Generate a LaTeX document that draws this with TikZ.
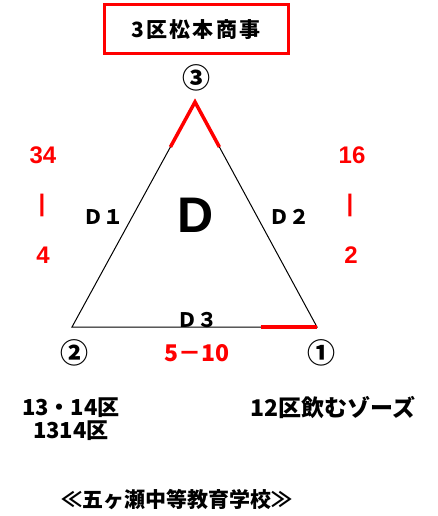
\documentclass[tikz,border=0pt]{standalone}
\usepackage{fontspec}
\setmainfont{Liberation Sans}
\newfontfamily\jp{Noto Sans CJK JP}
\newfontfamily\jpt[LetterSpace=10]{Noto Sans CJK JP}
\usetikzlibrary{calc}
\begin{document}
\begin{tikzpicture}[x=1pt,y=-1pt,
  jptext/.style={inner sep=0pt, font=\jp\bfseries\fontsize{22}{22}\selectfont},
  rednum/.style={inner sep=0pt, text=red, font=\bfseries\fontsize{24}{24}\selectfont},
  circnum/.style={inner sep=0pt, font=\jp\bfseries\fontsize{28}{28}\selectfont},
  dlabel/.style={inner sep=0pt, font=\jp\bfseries\fontsize{20}{20}\selectfont},
  edge/.style={line width=1pt, black},
  redmark/.style={line width=3.5pt, red}]
\useasboundingbox (0,0) rectangle (437,516);
\node[draw=red, line width=3pt, minimum width=184pt, minimum height=49pt, inner sep=0pt,
      font=\jpt\bfseries\fontsize{21}{21}\selectfont] (title) at (196,29.5) {3区松本商事};
\coordinate (A) at (195,102);
\coordinate (B) at (72,327);
\coordinate (C) at (317,327);
\draw[edge] (A) -- (B) -- (C) -- cycle;
\draw[redmark] ($(A)!0.2!(B)$) -- (A) -- ($(A)!0.2!(C)$);
\draw[redmark] ($(C)!0.23!(B)$) -- (C);
\node[circnum] (n3) at (196,78) {③};
\node[circnum] (n2) at (74,353) {②};
\node[circnum] (n1) at (321,353) {①};
\node[rednum] (l34) at (43,155) {34};
\node[rednum] (lbar1) at (42,205) {|};
\node[rednum] (l4) at (43,255) {4};
\node[rednum] (l16) at (352,155) {16};
\node[rednum] (lbar2) at (350,205) {|};
\node[rednum] (l2) at (351,255) {2};
\node[dlabel] (d1) at (103,217) {Ｄ１};
\node[dlabel] (d2) at (289,217) {Ｄ２};
\node[dlabel] (d3) at (197,320) {Ｄ３};
\node[inner sep=0pt, font=\bfseries\fontsize{50}{50}\selectfont] (bigD) at (196,215) {D};
\node[inner sep=0pt, text=red, font=\jp\bfseries\fontsize{23}{23}\selectfont] (score) at (197,353) {5－10};
\node[jptext, anchor=west] (t1) at (22,408) {13・14区};
\node[jptext, anchor=west] (t2) at (33,431) {1314区};
\node[jptext, anchor=west, font=\jp\bfseries\fontsize{23}{23}\selectfont] (t3) at (250,408) {12区飲むゾーズ};
\node[inner sep=0pt, font=\jp\bfseries\fontsize{21}{21}\selectfont] (school) at (177,500) {≪五ヶ瀬中等教育学校≫};
\end{tikzpicture}
\end{document}
